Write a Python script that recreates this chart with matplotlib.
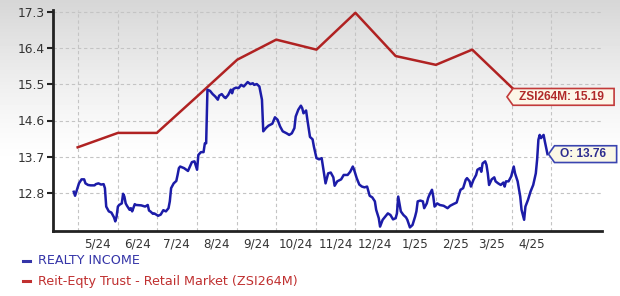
import numpy as np
import matplotlib
matplotlib.use("Agg")
import matplotlib.pyplot as plt
from matplotlib.path import Path
from matplotlib.lines import Line2D

# ---------------- data ----------------
start = np.datetime64("2024-05-01")

ri_days = [-3, -2, 1, 3, 5, 6, 8, 10, 13, 14, 16, 18, 20, 21, 22, 24, 26, 28, 29, 30,
           31, 32, 34, 35, 36, 37, 38, 40, 41, 42, 44, 45, 49, 52, 54, 55, 56, 58, 59, 61,
           62, 64, 66, 68, 70, 71, 72, 74, 76, 77, 78, 79, 82, 85, 87, 88, 90, 92, 93, 95,
           97, 98, 99, 100, 102, 104, 106, 108, 109, 111, 113, 114, 116, 118, 119, 120, 122, 124, 126, 128,
           131, 133, 135, 136, 138, 140, 142, 143, 145, 147, 150, 152, 154, 156, 158, 161, 163, 165, 167, 168,
           170, 172, 173, 174, 176, 177, 179, 181, 182, 184, 186, 188, 189, 191, 193, 195, 197, 198, 200, 203,
           205, 208, 210, 212, 213, 215, 217, 219, 221, 223, 225, 227, 229, 230, 232, 233, 235, 237, 239, 241,
           243, 245, 246, 247, 249, 251, 253, 254, 256, 258, 260, 261, 262, 264, 266, 267, 269, 270, 271, 273,
           274, 275, 277, 279, 282, 283, 285, 287, 290, 292, 294, 295, 297, 299, 300, 302, 303, 305, 307, 308,
           310, 311, 312, 314, 315, 316, 317, 319, 321, 322, 324, 326, 328, 329, 330, 332, 334, 336, 337, 339,
           341, 342, 344, 345, 347, 349, 351, 353, 354, 355, 356, 357, 359, 360, 362]
ri_vals = [12.82, 12.72, 13.03, 13.13, 13.13, 13.03, 12.99, 12.98, 12.98, 13.01, 13.03, 13.00, 13.01, 12.91, 12.45, 12.33, 12.30, 12.18, 12.08, 12.20,
           12.45, 12.49, 12.53, 12.77, 12.70, 12.53, 12.47, 12.37, 12.41, 12.33, 12.51, 12.49, 12.48, 12.45, 12.49, 12.35, 12.33, 12.27, 12.28, 12.24,
           12.22, 12.25, 12.36, 12.33, 12.41, 12.58, 12.91, 13.03, 13.09, 13.24, 13.41, 13.45, 13.41, 13.34, 13.49, 13.56, 13.58, 13.37, 13.74, 13.81,
           13.81, 14.03, 14.03, 15.37, 15.34, 15.26, 15.20, 15.12, 15.22, 15.26, 15.18, 15.16, 15.24, 15.37, 15.28, 15.39, 15.42, 15.41, 15.49, 15.45,
           15.56, 15.51, 15.53, 15.49, 15.51, 15.45, 15.12, 14.33, 14.41, 14.47, 14.52, 14.68, 14.62, 14.45, 14.33, 14.28, 14.24, 14.28, 14.41, 14.70,
           14.87, 14.97, 14.91, 14.78, 14.85, 14.62, 14.19, 14.13, 13.95, 13.66, 13.63, 13.66, 13.45, 13.03, 13.28, 13.30, 13.18, 12.97, 13.08, 13.13,
           13.24, 13.24, 13.32, 13.45, 13.37, 13.16, 13.00, 12.95, 12.93, 12.95, 12.72, 12.68, 12.58, 12.37, 12.16, 11.95, 12.12, 12.20, 12.28, 12.24,
           12.13, 12.16, 12.28, 12.70, 12.33, 12.24, 12.18, 12.12, 11.93, 11.99, 12.20, 12.33, 12.58, 12.60, 12.58, 12.41, 12.53, 12.66, 12.74, 12.87,
           12.70, 12.45, 12.53, 12.49, 12.47, 12.45, 12.41, 12.47, 12.52, 12.55, 12.77, 12.87, 12.91, 13.12, 13.16, 13.08, 12.95, 13.12, 13.24, 13.37,
           13.41, 13.32, 13.53, 13.58, 13.49, 13.28, 12.99, 13.13, 13.18, 13.08, 13.03, 12.99, 13.05, 12.95, 13.08, 13.08, 13.20, 13.45, 13.28, 13.08,
           12.70, 12.37, 12.12, 12.45, 12.62, 12.83, 12.99, 13.28, 13.62, 14.12, 14.24, 14.16, 14.24, 14.07, 13.76]

ind_dates = ["2024-05-01", "2024-06-01", "2024-07-01", "2024-08-01", "2024-09-01", "2024-10-01",
             "2024-11-01", "2024-12-01", "2025-01-01", "2025-02-01", "2025-03-01", "2025-04-08"]
ind_vals = [13.93, 14.29, 14.29, 15.20, 16.12, 16.62, 16.37, 17.29, 16.21, 15.99, 16.37, 15.19]

y_ticks = [12.8, 13.7, 14.6, 15.5, 16.4, 17.3]
month_labels = ["5/24", "6/24", "7/24", "8/24", "9/24", "10/24", "11/24", "12/24",
                "1/25", "2/25", "3/25", "4/25"]
legend_labels = ["REALTY INCOME", "Reit-Eqty Trust - Retail Market (ZSI264M)"]
ind_tag = "ZSI264M: 15.19"
ri_tag = "O: 13.76"

# ---------------- figure ----------------
W, H = 620, 296
fig = plt.figure(figsize=(W / 100, H / 100), dpi=100)

# background gradient
bg = fig.add_axes([0, 0, 1, 1], zorder=-10)
yy = np.arange(H)
shade = 1 - 0.16 * np.clip(1 - yy / 165.0, 0, 1) ** 1.3
grad = np.repeat(shade[:, None], 4, axis=1)
bg.imshow(grad, cmap="gray", vmin=0, vmax=1, aspect="auto", extent=[0, 1, 0, 1])
bg.set_axis_off()

left, right, top, bottom = 53, 602, 10, 231
ax = fig.add_axes([left / W, 1 - bottom / H, (right - left) / W, (bottom - top) / H])
ax.set_facecolor("none")

ri_x = start + np.array(ri_days).astype("timedelta64[D]")
ind_x = np.array(ind_dates, dtype="datetime64[D]")

blue = "#1c1ca8"
red = "#b02222"
ax.plot(ind_x, ind_vals, color=red, lw=1.8, zorder=3, solid_joinstyle="round")
ax.plot(ri_x, ri_vals, color=blue, lw=1.8, zorder=4, solid_joinstyle="round")

x0 = start - np.timedelta64(19, "D")
x1 = start + np.timedelta64(404, "D")
ax.set_xlim(x0, x1)
ax.set_ylim(11.84, 17.36)

# month grid lines at month starts, labels mid-month
months = np.arange(np.datetime64("2024-05"), np.datetime64("2025-06"), dtype="datetime64[M]")
ax.set_xticks(months.astype("datetime64[D]"), minor=True)
mid = months[:-1].astype("datetime64[D]") + np.timedelta64(15, "D")
ax.set_xticks(mid)
ax.set_xticklabels(month_labels)
ax.set_yticks(y_ticks)
ax.set_yticklabels([f"{v:.1f}" for v in y_ticks])

ax.grid(True, which="minor", axis="x", color="#c4c4c4", lw=0.8, ls=(0, (3, 2.5)))
ax.grid(True, which="major", axis="y", color="#c4c4c4", lw=0.8, ls=(0, (3, 2.5)))
ax.tick_params(axis="x", which="both", length=0, pad=5, labelsize=8.6, labelcolor="#333333")
ax.tick_params(axis="y", length=4, width=1.5, color="#222222", pad=2, labelsize=8.8, labelcolor="#333333")
for s in ["top", "right"]:
    ax.spines[s].set_visible(False)
for s in ["left", "bottom"]:
    ax.spines[s].set_color("#222222")
    ax.spines[s].set_linewidth(2)


# tag shaped box style (rectangle with a pointed left end)
def tag_box(x0, y0, width, height, mutation_size):
    pv = 0.2 * mutation_size
    pl = 0.5 * mutation_size
    pr = 0.85 * mutation_size
    x0 -= pl
    y0 -= pv
    width += pl + pr
    height += 2 * pv
    tip = 0.5 * mutation_size
    verts = [(x0, y0), (x0 + width, y0), (x0 + width, y0 + height), (x0, y0 + height),
             (x0 - tip, y0 + height / 2), (x0, y0), (x0, y0)]
    codes = [Path.MOVETO] + [Path.LINETO] * 5 + [Path.CLOSEPOLY]
    return Path(verts, codes)


ax.text(start + np.timedelta64(340, "D"), ind_vals[-1], ind_tag, ha="left", va="center",
        fontsize=8.6, fontweight="bold", family="Liberation Sans", color="#b02a2a", zorder=6,
        bbox=dict(boxstyle=tag_box, fc="#fcf6e8", ec="#c23a3a", lw=1.2), clip_on=False)
ax.text(start + np.timedelta64(372, "D"), ri_vals[-1], ri_tag, ha="left", va="center",
        fontsize=8.6, fontweight="bold", family="Liberation Sans", color="#2d2d8f", zorder=6,
        bbox=dict(boxstyle=tag_box, fc="#fbf8e6", ec="#3a44b0", lw=1.2), clip_on=False)

# legend
leg_cols = ["#3535a8", "#c03030"]
for i, (lab, c) in enumerate(zip(legend_labels, leg_cols)):
    yc = 1 - (261 + 20 * i) / H
    fig.add_artist(Line2D([23 / W, 30 / W], [yc, yc], color=c, lw=2.2, transform=fig.transFigure))
    fig.text(38 / W, yc, lab, color=c, fontsize=9.2, va="center", ha="left")

fig.savefig("out.png", dpi=100)
